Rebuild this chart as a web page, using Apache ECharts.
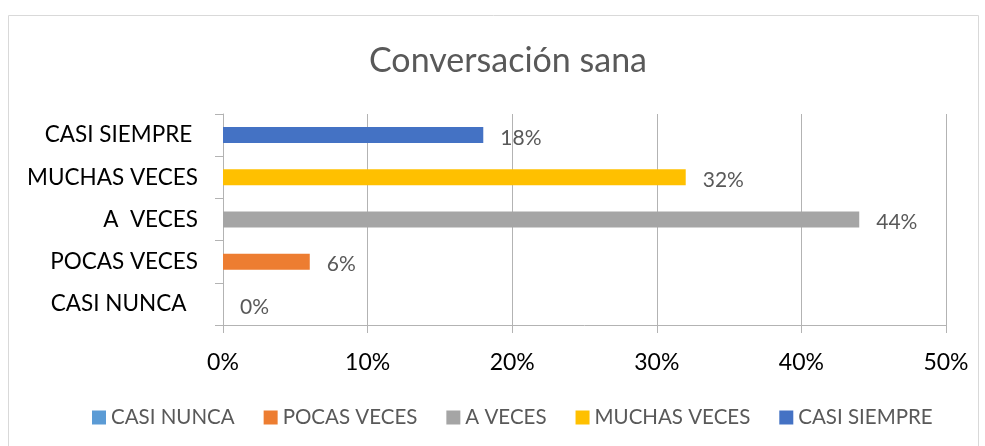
<!DOCTYPE html>
<html>
<head>
<meta charset="utf-8">
<script src="https://cdn.jsdelivr.net/npm/echarts@6/dist/echarts.min.js"></script>
<style>
  html, body { margin: 0; padding: 0; background: #fff; }
  #main { width: 985px; height: 446px; }
</style>
</head>
<body>
<div id="main"></div>
<script>
// axis categories, bottom to top
const categories = ['CASI NUNCA  ', 'POCAS VECES', 'A  VECES', 'MUCHAS VECES', 'CASI SIEMPRE ']
const legendNames = ['CASI NUNCA', 'POCAS VECES', 'A VECES', 'MUCHAS VECES', 'CASI SIEMPRE']
const values = [0, 6, 44, 32, 18]
const xTicks = [0, 10, 20, 30, 40, 50]

const palette = ['#5b9bd5', '#ed7d31', '#a5a5a5', '#ffc000', '#4472c4']
const fontFam = 'Lato, "Open Sans", sans-serif'
const lineGray = '#b3b3b3'

const chart = echarts.init(document.getElementById('main'))

// one series per category so each gets its own legend entry
const series = legendNames.map((name, i) => ({
  name: name,
  type: 'bar',
  barWidth: 16,
  barGap: '-100%',
  itemStyle: { color: palette[i] },
  label: {
    show: true,
    position: 'right',
    distance: 17,
    formatter: p => p.value + '%',
    color: '#595959',
    fontSize: 21,
    fontFamily: fontFam,
    offset: [0, 3]
  },
  data: categories.map((c, j) => j === i ? values[i] : null)
}))

const option = {
  animation: false,
  textStyle: { fontFamily: fontFam },
  title: {
    text: 'Conversación sana',
    left: 503,
    top: 39,
    textAlign: 'center',
    textStyle: { color: '#595959', fontSize: 34, fontWeight: 'normal', fontFamily: fontFam }
  },
  graphic: [{
    type: 'rect',
    shape: { x: 8.5, y: 15.5, width: 970, height: 440 },
    style: { fill: 'none', stroke: '#d9d9d9', lineWidth: 1 },
    silent: true
  }],
  legend: {
    top: 402,
    left: 87,
    itemWidth: 14,
    itemHeight: 14,
    itemGap: 29,
    icon: 'rect',
    textStyle: { color: '#595959', fontSize: 20.5, fontFamily: fontFam },
    data: legendNames
  },
  grid: {
    left: 223,
    right: 39,
    top: 114,
    bottom: 121
  },
  xAxis: {
    type: 'value',
    min: xTicks[0],
    max: xTicks[xTicks.length - 1],
    interval: 10,
    axisLine: { show: true, lineStyle: { color: lineGray } },
    axisTick: { show: true, length: 8, lineStyle: { color: lineGray } },
    axisLabel: { formatter: '{value}%', color: '#000', fontSize: 23, margin: 26, fontFamily: fontFam },
    splitLine: { show: true, lineStyle: { color: lineGray } }
  },
  yAxis: {
    type: 'category',
    data: categories,
    axisLine: { show: true, lineStyle: { color: lineGray } },
    axisTick: { show: true, length: 8, lineStyle: { color: lineGray } },
    axisLabel: { color: '#000', fontSize: 22.5, margin: 25, fontFamily: fontFam, padding: [4, 0, 0, 0] }
  },
  series: series
}

chart.setOption(option)
</script>
</body>
</html>
